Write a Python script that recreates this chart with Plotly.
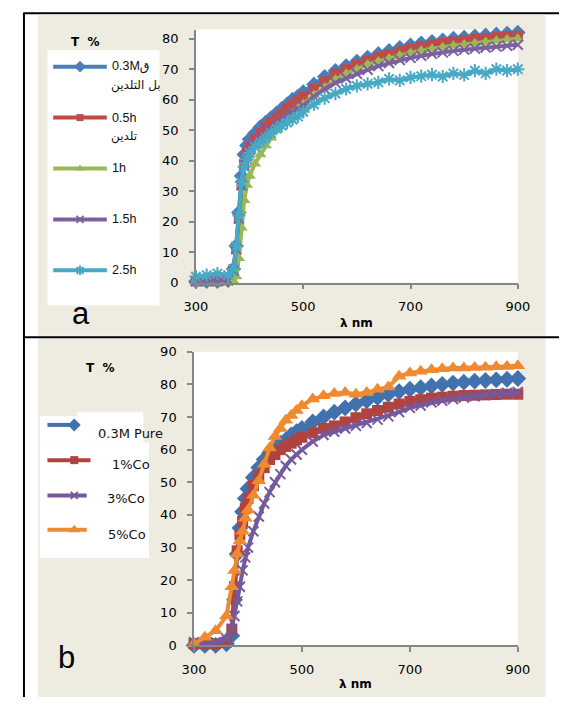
import plotly.graph_objects as go

W, H = 571, 705

# ---------------- data ----------------
WL_A = [300, 320, 340, 360, 370, 375, 380, 385, 390, 395, 400,
        410, 420, 430, 440, 450, 460, 470, 480, 490, 500,
        520, 540, 560, 580, 600, 620, 640, 660, 680, 700,
        720, 740, 760, 780, 800, 820, 840, 860, 880, 900]

T_03M = [0.5, 0.5, 0.5, 0.8, 4.5, 12, 23, 35, 42, 45, 47,
         49, 51, 52.5, 54, 55.5, 57, 58.5, 60, 61, 62.5,
         65, 67.5, 69.5, 71, 72.5, 73.8, 75, 76, 77, 77.8,
         78.5, 79, 79.5, 80, 80.4, 80.8, 81.1, 81.4, 81.7, 82]
T_05H = [0.5, 0.5, 0.5, 0.8, 4, 11, 21, 32, 39, 42.5, 44.5,
         47, 49, 51, 52.5, 54, 55.5, 57, 58.5, 59.8, 61,
         63.5, 66, 68.5, 70, 71.5, 72.8, 74, 75, 76, 76.8,
         77.5, 78, 78.6, 79.1, 79.5, 79.9, 80.2, 80.5, 80.8, 81]
T_1H = [0, 0, 0, 0.2, 0.5, 2, 8, 18, 27, 32, 35,
        39, 42, 45, 47.5, 50, 52, 54, 55.5, 57, 58.5,
        61.5, 64, 66.5, 68.5, 70, 71.5, 72.5, 73.5, 74.5, 75.3,
        76, 76.7, 77.2, 77.7, 78.1, 78.5, 78.9, 79.3, 79.7, 80]
T_15H = [0.5, 0.5, 0.5, 0.8, 4, 11, 21, 32, 38.5, 41.5, 43.5,
         45.5, 47.5, 49, 50.5, 52, 53.5, 55, 56, 57, 58,
         61, 63.5, 65.5, 67, 68.5, 69.8, 71, 72, 73, 73.7,
         74.4, 75, 75.5, 76, 76.4, 76.8, 77.1, 77.4, 77.7, 78]
T_25H = [2, 2.5, 3, 2.5, 4.5, 12, 22, 33, 38, 40.5, 42.5,
         44.5, 46, 47.5, 49, 50.5, 51.5, 52.5, 53.5, 54.5, 56,
         58.5, 60.5, 62, 63.5, 64.5, 65.2, 65.7, 66.8, 66.3, 67.3,
         67.7, 68.2, 67.6, 68.6, 68.1, 69.5, 68.6, 70, 69.5, 70]

WL_B = WL_A
T_PURE = [0, 0, 0, 0.5, 3, 14, 28, 36, 41, 45, 48,
          51.5, 54.5, 57, 59, 60.5, 62, 63, 64.5, 65.5, 66.5,
          68.5, 70, 71.5, 72.8, 74, 75, 76, 77, 77.8, 78.5,
          79, 79.5, 80, 80.4, 80.7, 81, 81.2, 81.4, 81.6, 81.8]
T_CO1 = [0.5, 0.5, 0.5, 1, 5, 18, 29, 34, 38, 42, 45,
         49, 52, 54.5, 57, 58.5, 60, 61, 62, 63, 63.8,
         65.2, 66.5, 67.3, 68.5, 69.8, 71, 72, 73, 74, 74.8,
         75.3, 75.8, 76.1, 76.4, 76.6, 76.7, 76.8, 76.9, 77, 77]
T_CO3 = [1, 0.5, 1, 2, 5, 9, 13.5, 18, 23, 27, 30,
         35, 39.5, 43.5, 47, 50, 52.5, 55, 57, 58.5, 60,
         62.5, 64.5, 65.5, 66.5, 67.3, 68.2, 69.2, 70.2, 71.5, 72.8,
         73.5, 74.5, 75, 75.5, 76, 76.4, 76.8, 77.1, 77.4, 77.7]
T_CO5 = [0.5, 2.5, 4.5, 9, 18, 23, 28, 32, 35, 39, 41.5,
         46, 50.5, 55.5, 60.5, 64, 66.5, 69, 70.5, 72, 73.5,
         75.5, 76.5, 77.2, 77.5, 77, 77.5, 78.5, 79.2, 82.5, 83.5,
         84, 84.5, 84.8, 85, 85, 85.2, 85.3, 85.4, 85.5, 85.7]

X_TICKS = [300, 500, 700, 900]
Y_TICKS_A = [0, 10, 20, 30, 40, 50, 60, 70, 80]
Y_TICKS_B = [0, 10, 20, 30, 40, 50, 60, 70, 80, 90]

NAMES_A = ["0.3Mق", "0.5h", "1h", "1.5h", "2.5h"]
NAMES_A2 = ["بل التلدين", "تلدين", "", "", ""]
NAMES_B = ["0.3M Pure", "1%Co", "3%Co", "5%Co"]

# ---------------- styles ----------------
BEIGE = "#EEECE1"
AXC = "#868686"
SER_A = [
    (T_03M, "#4A7EBB", "diamond", 12, False),
    (T_05H, "#BE4B48", "square", 10, False),
    (T_1H, "#98B954", "triangle-up", 11, False),
    (T_15H, "#7D60A0", "x-thin-open", 10, True),
    (T_25H, "#46AAC5", "asterisk-open", 11, True),
]
SER_B = [
    (T_PURE, "#4172AE", "diamond", 13, False),
    (T_CO1, "#B0433F", "square", 11, False),
    (T_CO3, "#74599C", "x-thin-open", 10, True),
    (T_CO5, "#F08A30", "triangle-up", 13, False),
]


def px(x):
    return x / W


def py(y):
    return 1 - y / H


fig = go.Figure()


def marker_of(color, symbol, size, open_):
    m = dict(symbol=symbol, size=size, color=color)
    if open_:
        m["line"] = dict(color=color, width=2)
    return m


for ys, c, s, sz, op in SER_A:
    fig.add_trace(go.Scatter(x=WL_A, y=ys, mode="lines+markers",
                             line=dict(color=c, width=4),
                             marker=marker_of(c, s, sz, op),
                             xaxis="x", yaxis="y", cliponaxis=False,
                             showlegend=False, hoverinfo="skip"))
for ys, c, s, sz, op in SER_B:
    fig.add_trace(go.Scatter(x=WL_B, y=ys, mode="lines+markers",
                             line=dict(color=c, width=4),
                             marker=marker_of(c, s, sz, op),
                             xaxis="x2", yaxis="y2", cliponaxis=False,
                             showlegend=False, hoverinfo="skip"))

# ---------------- legend keys (overlay axis in pixel units) ----------------
LEG_A_Y = [61, 113, 165, 217, 269]
LEG_B = [  # y of line, x end of line, text x, text y
    (427, 67, 88, 436),
    (463, 82, 102, 467),
    (499, 78, 97, 502),
    (534, 78, 98, 539),
]
annotations = []
for (ys, c, s, sz, op), yy, n1, n2 in zip(SER_A, LEG_A_Y, NAMES_A, NAMES_A2):
    fig.add_trace(go.Scatter(x=[43, 99], y=[yy, yy], mode="lines",
                             line=dict(color=c, width=4), xaxis="x3", yaxis="y3",
                             showlegend=False, hoverinfo="skip", cliponaxis=False))
    fig.add_trace(go.Scatter(x=[71], y=[yy], mode="markers",
                             marker=marker_of(c, s, sz - 3, op), xaxis="x3", yaxis="y3",
                             showlegend=False, hoverinfo="skip", cliponaxis=False))
    annotations.append(dict(x=px(102), y=py(yy), xref="paper", yref="paper",
                            text=n1, showarrow=False, xanchor="left", yanchor="middle",
                            font=dict(family="Liberation Sans, DejaVu Sans", size=12.5, color="#111")))
    if n2:
        annotations.append(dict(x=px(101), y=py(yy + 19), xref="paper", yref="paper",
                                text=n2, showarrow=False, xanchor="left", yanchor="middle",
                                font=dict(family="DejaVu Sans", size=12, color="#111")))

for (ys, c, s, sz, op), (yy, xe, tx, ty), n in zip(SER_B, LEG_B, NAMES_B):
    fig.add_trace(go.Scatter(x=[37, xe], y=[yy, yy], mode="lines",
                             line=dict(color=c, width=4), xaxis="x3", yaxis="y3",
                             showlegend=False, hoverinfo="skip", cliponaxis=False))
    fig.add_trace(go.Scatter(x=[65], y=[yy], mode="markers",
                             marker=marker_of(c, s, sz - 3, op), xaxis="x3", yaxis="y3",
                             showlegend=False, hoverinfo="skip", cliponaxis=False))
    annotations.append(dict(x=px(tx), y=py(ty), xref="paper", yref="paper",
                            text=n, showarrow=False, xanchor="left", yanchor="middle",
                            font=dict(family="DejaVu Sans", size=13, color="#111")))

# other texts
for txt, x, y, size, fam in [
    ("<b>T\u00a0 %</b>", 77, 36, 12, "DejaVu Sans"),
    ("<b>T\u00a0 %</b>", 92, 369, 12, "DejaVu Sans"),
    ("<b>λ nm</b>", 360, 323, 12, "DejaVu Sans"),
    ("<b>λ nm</b>", 359, 692, 12, "DejaVu Sans"),
    ("a", 72, 313, 31, "Liberation Sans"),
    ("b", 57, 665, 31, "Liberation Sans"),
]:
    annotations.append(dict(x=px(x), y=py(y), xref="paper", yref="paper", text=txt,
                            showarrow=False, xanchor="center", yanchor="middle",
                            font=dict(family=fam, size=size, color="#000")))

# ---------------- shapes ----------------
shapes = []


def rect(x0, y0, x1, y1, color):
    shapes.append(dict(type="rect", xref="paper", yref="paper", x0=px(x0), x1=px(x1),
                       y0=py(y1), y1=py(y0), fillcolor=color, line=dict(width=0), layer="below"))


def hline(x0, x1, y, w=2):
    shapes.append(dict(type="line", xref="paper", yref="paper", x0=px(x0), x1=px(x1),
                       y0=py(y), y1=py(y), line=dict(color="#000", width=w), layer="below"))


def vline(x, y0, y1, w=2):
    shapes.append(dict(type="line", xref="paper", yref="paper", x0=px(x), x1=px(x),
                       y0=py(y0), y1=py(y1), line=dict(color="#000", width=w), layer="below"))


hline(12, 571, 6.5)
vline(12.5, 6, 705)
rect(27, 8, 557, 336, BEIGE)
rect(27, 339, 557, 705, BEIGE)
hline(12, 571, 337.5)
# plot areas
rect(192, 23, 528, 281.7, "white")
rect(190, 352.3, 528, 652.3, "white")
# legend boxes
rect(37, 44, 154, 305, "white")
rect(68, 414, 137, 445, "white")
rect(29, 418, 137, 445, "white")
rect(29, 445, 143, 563, "white")

axis_common = dict(showgrid=False, zeroline=False, showline=True, linecolor=AXC,
                   linewidth=1.5, ticks="outside", ticklen=5, tickcolor=AXC, tickwidth=1.5,
                   tickfont=dict(family="DejaVu Sans", size=13, color="#000"),
                   fixedrange=True)

fig.update_layout(
    autosize=True, margin=dict(l=0, r=0, t=0, b=0),
    paper_bgcolor="white", plot_bgcolor="rgba(0,0,0,0)",
    xaxis=dict(domain=[px(192), px(528)], range=[300, 900], anchor="y",
               tickvals=X_TICKS, ticklabelstandoff=6, **axis_common),
    yaxis=dict(domain=[py(281.7), py(23)], range=[0, 83], anchor="x",
               tickvals=Y_TICKS_A, ticklabelstandoff=8, **axis_common),
    xaxis2=dict(domain=[px(190), px(528)], range=[300, 900], anchor="y2",
                tickvals=X_TICKS, ticklabelstandoff=6, **axis_common),
    yaxis2=dict(domain=[py(652.3), py(352.3)], range=[0, 90], anchor="x2",
                tickvals=Y_TICKS_B, ticklabelstandoff=8, **axis_common),
    xaxis3=dict(domain=[0, 1], range=[0, W], anchor="y3", visible=False, fixedrange=True),
    yaxis3=dict(domain=[0, 1], range=[H, 0], anchor="x3", visible=False, fixedrange=True),
    shapes=shapes,
    annotations=annotations,
    showlegend=False,
)

# the figure div fills the whole 571x705 viewport, independent of the body's default margin
fig.write_html(
    "out.html",
    config={"displayModeBar": False},
    default_width="100vw",
    default_height="100vh; position:fixed; left:0; top:0; margin:0",
)
